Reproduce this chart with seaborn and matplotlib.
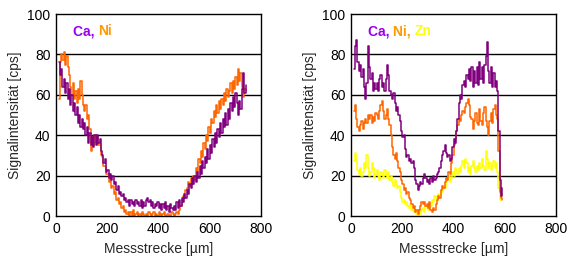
import numpy as np
import pandas as pd
import matplotlib
matplotlib.use("Agg")
import matplotlib.pyplot as plt
import seaborn as sns

# ---------------- data ----------------
# left panel: positions 10..740 µm every 5 µm
left_x = np.arange(10, 745, 5)
left_ca = [
    76, 70, 73, 64, 68, 61, 66, 58, 63, 55,
    60, 52, 56, 50, 54, 46, 50, 44, 48, 43,
    46, 40, 44, 36, 41, 35, 39, 34, 40, 35,
    40, 36, 38, 32, 30, 26, 28, 22, 23, 19,
    21, 18, 20, 16, 17, 13, 15, 11, 12, 10,
    11, 8, 9, 7, 8, 5, 8, 6, 7, 5,
    8, 6, 7, 5, 8, 4, 7, 5, 8, 9,
    7, 8, 5, 7, 4, 6, 5, 7, 4, 6,
    3, 6, 4, 7, 3, 5, 2, 6, 4, 3,
    5, 3, 7, 4, 8, 5, 9, 7, 11, 9,
    13, 11, 16, 14, 19, 16, 20, 17, 22, 19,
    25, 21, 27, 24, 29, 26, 33, 28, 35, 31,
    38, 34, 41, 36, 43, 39, 46, 41, 48, 44,
    51, 45, 53, 48, 56, 52, 59, 54, 61, 56,
    50, 57, 53, 63, 71, 61, 65,
]
left_ni = [
    58, 76, 80, 77, 81, 75, 79, 74, 70, 64,
    60, 66, 58, 62, 56, 63, 58, 67, 60, 55,
    52, 55, 48, 50, 43, 32, 39, 35, 40, 36,
    39, 35, 35, 30, 29, 25, 25, 21, 21, 17,
    18, 14, 15, 11, 12, 8, 9, 6, 7, 4,
    5, 2, 3, 1, 2, 0, 2, 0, 3, 0,
    1, 2, 0, 1, 0, 2, 1, 0, 1, 0,
    2, 1, 0, 1, 2, 0, 1, 0, 2, 1,
    0, 1, 2, 0, 0, 1, 0, 0, 2, 1,
    0, 1, 2, 1, 3, 5, 8, 10, 9, 13,
    14, 17, 15, 19, 16, 20, 18, 24, 22, 28,
    26, 32, 29, 36, 33, 40, 37, 44, 41, 48,
    46, 52, 49, 55, 51, 57, 53, 58, 55, 61,
    57, 63, 59, 62, 66, 61, 67, 63, 69, 65,
    73, 67, 71, 64, 59, 63, 62,
]

# right panel: positions 10..590 µm every 5 µm
right_x = np.arange(10, 595, 5)
right_ca = [
    73, 84, 87, 76, 72, 75, 69, 73, 64, 58,
    66, 84, 74, 68, 71, 62, 66, 63, 66, 62,
    68, 70, 64, 66, 62, 68, 75, 70, 62, 60,
    58, 61, 56, 52, 54, 50, 47, 42, 39, 40,
    33, 29, 30, 27, 28, 26, 27, 24, 18, 16,
    13, 15, 17, 16, 19, 21, 19, 17, 18, 16,
    19, 17, 20, 18, 19, 21, 22, 24, 27, 30,
    32, 35, 31, 29, 30, 27, 28, 34, 38, 36,
    42, 48, 56, 60, 58, 65, 67, 64, 70, 68,
    73, 67, 74, 64, 72, 66, 74, 65, 76, 68,
    74, 66, 75, 79, 86, 72, 66, 74, 64, 71,
    64, 67, 62, 42, 18, 10, 14,
]
right_ni = [
    52, 55, 48, 44, 42, 45, 47, 43, 46, 48,
    46, 50, 48, 50, 46, 49, 47, 51, 50, 48,
    52, 55, 57, 52, 48, 50, 53, 48, 45, 40,
    34, 30, 28, 31, 27, 24, 22, 18, 16, 13,
    14, 11, 12, 9, 8, 6, 4, 5, 2, 3,
    1, 3, 5, 7, 6, 7, 5, 6, 4, 7,
    3, 2, 4, 3, 6, 8, 10, 9, 13, 15,
    14, 17, 19, 18, 22, 21, 26, 30, 35, 38,
    42, 45, 48, 47, 50, 52, 51, 54, 56, 58,
    55, 49, 48, 43, 47, 51, 46, 45, 53, 47,
    45, 51, 54, 47, 44, 40, 47, 51, 46, 53,
    55, 50, 48, 32, 12, 9, 8,
]
right_zn = [
    27, 31, 28, 23, 21, 24, 20, 22, 26, 24,
    30, 24, 20, 22, 26, 24, 19, 21, 23, 20,
    18, 22, 21, 19, 23, 21, 19, 22, 18, 20,
    17, 15, 18, 16, 14, 15, 12, 9, 7, 8,
    6, 7, 5, 4, 6, 3, 4, 2, 3, 1,
    0, 2, 1, 3, 4, 2, 5, 4, 3, 6,
    5, 8, 7, 10, 9, 8, 11, 10, 13, 12,
    15, 14, 17, 18, 20, 17, 19, 22, 20, 24,
    23, 21, 24, 22, 25, 27, 24, 28, 26, 22,
    24, 21, 25, 27, 24, 22, 25, 23, 26, 24,
    28, 25, 23, 32, 28, 24, 26, 23, 25, 27,
    24, 26, 22, 14, 8, 11, 10,
]

x_ticks = [0, 200, 400, 600, 800]
y_ticks = [0, 20, 40, 60, 80, 100]
x_label = "Messstrecke [µm]"
y_label = "Signalintensität [cps]"

# ---------------- style ----------------
sns.set_style("white")
plt.rcParams["font.family"] = ["Liberation Sans", "DejaVu Sans"]

C_CA = "#800080"
C_NI = "#FF6600"
C_ZN = "#FFFF00"
T_CA = "#9900EE"
T_NI = "#FF9900"
T_ZN = "#FFFF00"

fig = plt.figure(figsize=(5.77, 2.69), dpi=100)
axL = fig.add_axes([56 / 577, 53 / 269, 205 / 577, 202 / 269])
axR = fig.add_axes([351 / 577, 53 / 269, 205 / 577, 202 / 269])

dfL = pd.DataFrame({"x": left_x, "Ca": left_ca, "Ni": left_ni})
dfR = pd.DataFrame({"x": right_x, "Ca": right_ca, "Ni": right_ni, "Zn": right_zn})

lw = 1.1
sns.lineplot(data=dfL, x="x", y="Ni", ax=axL, color=C_NI, lw=lw, drawstyle="steps-post")
sns.lineplot(data=dfL, x="x", y="Ca", ax=axL, color=C_CA, lw=lw, drawstyle="steps-post")

sns.lineplot(data=dfR, x="x", y="Zn", ax=axR, color=C_ZN, lw=lw, drawstyle="steps-post")
sns.lineplot(data=dfR, x="x", y="Ni", ax=axR, color=C_NI, lw=lw, drawstyle="steps-post")
sns.lineplot(data=dfR, x="x", y="Ca", ax=axR, color=C_CA, lw=lw, drawstyle="steps-post")

for ax in (axL, axR):
    ax.set_xlim(0, 800)
    ax.set_ylim(0, 100)
    ax.set_xticks(x_ticks)
    ax.set_yticks(y_ticks)
    ax.tick_params(length=0, labelsize=10, pad=4, colors="black")
    for y in y_ticks[1:-1]:
        ax.axhline(y, color="black", lw=1.0, zorder=0)
    for s in ax.spines.values():
        s.set_color("black")
        s.set_linewidth(1.0)
    ax.set_xlabel(x_label, fontsize=10, labelpad=5)
    ax.set_ylabel(y_label, fontsize=10, labelpad=4)
    ax.set_facecolor("white")

def colored_title(ax, parts, x, y):
    t = None
    for txt, col in parts:
        if t is None:
            t = ax.text(x, y, txt, color=col, fontsize=10, fontweight="bold",
                        va="center", ha="left", transform=ax.transData)
        else:
            t = ax.annotate(txt, xycoords=t, xy=(1, 0), va="bottom", ha="left",
                            color=col, fontsize=10, fontweight="bold")

colored_title(axL, [("Ca, ", T_CA), ("Ni", T_NI)], 66, 91.5)
colored_title(axR, [("Ca, ", T_CA), ("Ni, ", T_NI), ("Zn", T_ZN)], 66, 91.5)

fig.savefig("out.png", dpi=100, facecolor="white")
